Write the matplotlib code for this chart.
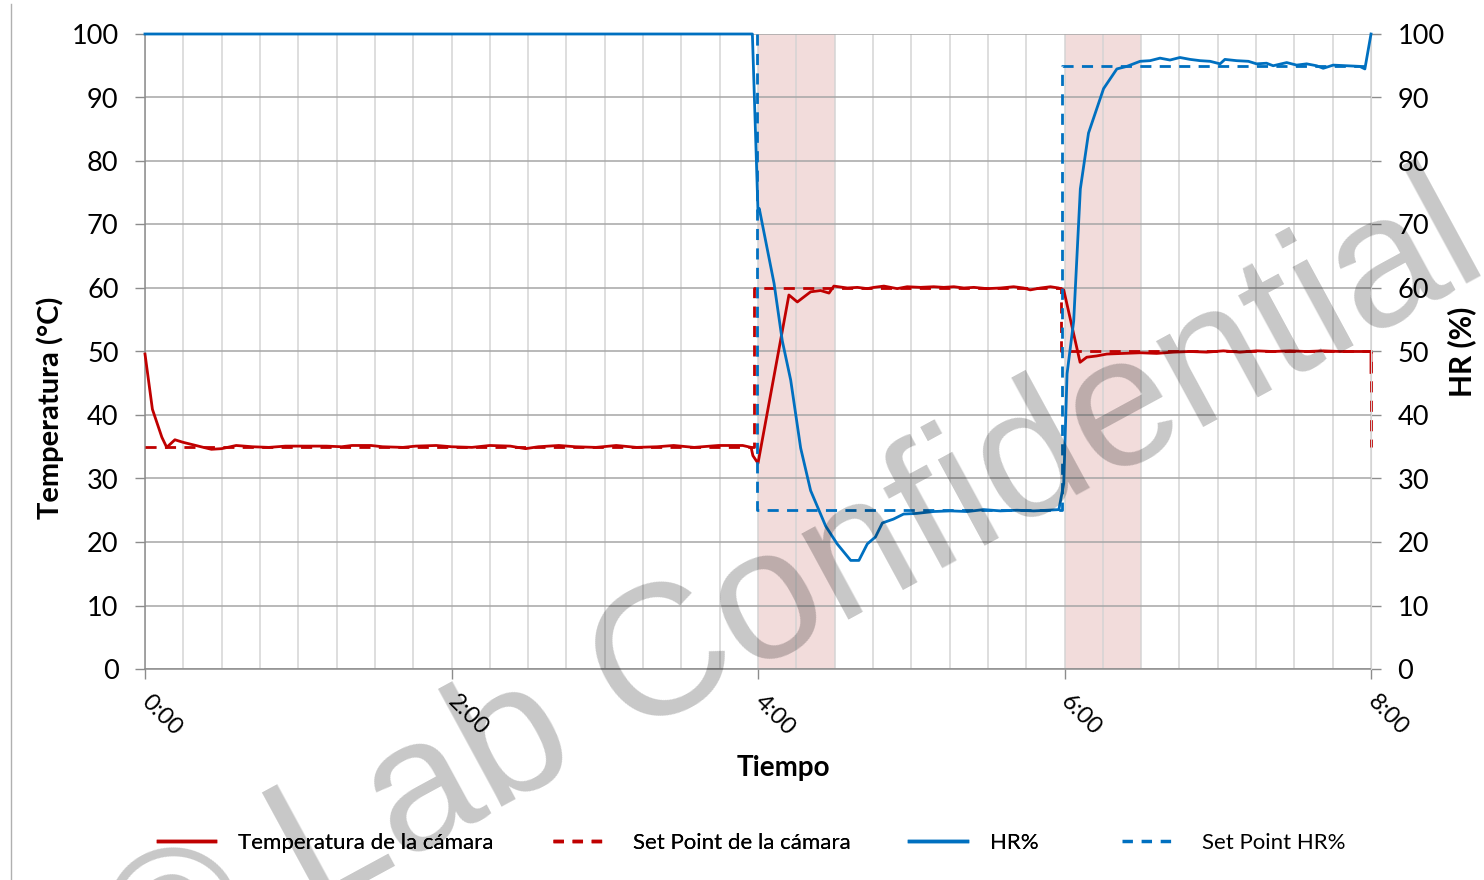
import matplotlib
matplotlib.use("Agg")
import matplotlib.pyplot as plt
from matplotlib.lines import Line2D
from matplotlib.ticker import MultipleLocator

# ---------------- data (time in minutes) ----------------
temp_t = [0, 2.9, 6.6, 8.5, 11.7, 14.9, 22.9, 26, 30, 35.7, 38.9, 42, 48.5, 55, 63, 71, 77, 81,
          88.5, 93, 101, 106, 114, 120, 128, 135, 143, 149, 154, 162, 168.5, 176.5, 184.5,
          192.5, 200.5, 207, 215, 224.5, 234, 237.3, 238, 240, 252.1, 255.4, 260.6, 264.5,
          267.8, 269.7, 275, 278.9, 282.8, 285.4, 289.3, 294.5, 298.4, 303.6, 308.8, 312.7,
          316.7, 320.6, 324.5, 329.7, 335, 340.1, 344, 346.6, 350.6, 354.5, 357.7, 359.7,
          366.1, 368.7, 372.6, 376.6, 383.1, 389.6, 396.1, 402.6, 409.2, 415.7, 422.2, 428.7,
          435.2, 441.7, 448.3, 454.8, 461.3, 467.8, 474.3, 480, 480]
temp_v = [49.6, 40.9, 36.5, 34.9, 36.1, 35.7, 34.9, 34.6, 34.7, 35.2, 35.1, 35.0, 34.9, 35.1,
          35.1, 35.1, 35.0, 35.2, 35.2, 35.0, 34.9, 35.1, 35.2, 35.0, 34.9, 35.2, 35.1, 34.7,
          35.0, 35.2, 35.0, 34.9, 35.2, 34.9, 35.0, 35.2, 34.9, 35.2, 35.2, 34.9, 33.6, 32.4,
          58.9, 57.8, 59.4, 59.6, 59.2, 60.3, 60.0, 60.1, 59.9, 60.1, 60.3, 59.9, 60.2, 60.1,
          60.2, 60.1, 60.2, 60.0, 60.1, 59.9, 60.0, 60.2, 60.0, 59.7, 60.0, 60.2, 60.0, 59.7,
          48.3, 49.1, 49.3, 49.6, 49.7, 49.8, 49.7, 49.9, 50.0, 49.9, 50.1, 49.9, 50.1, 50.0,
          50.1, 50.0, 50.1, 50.0, 50.0, 50.0, 46.7]

sp_temp_t = [0, 238.5, 238.5, 358.5, 358.5, 480, 480]
sp_temp_v = [35, 35, 60, 60, 50, 50, 35]

hr_t = [0, 237.8, 240, 240.5, 246.3, 249.5, 252.8, 256.7, 260.6, 266.5, 271, 276.3, 279.5,
        282.8, 286, 288.7, 293, 297, 302, 308.8, 315.4, 321.9, 328.4, 334.9, 341.4, 348,
        353.2, 357.8, 359.7, 361, 363.6, 366.2, 369.4, 375.3, 380.5, 384.4, 389.6, 393.5,
        397.4, 401.3, 405.2, 409.2, 413.1, 417, 420.9, 422.8, 427.4, 432, 435.2, 439.1,
        441.7, 447, 450.9, 454.8, 458.7, 461.3, 465.2, 470.4, 475.6, 477.6, 480]
hr_v = [100, 100, 72.0, 72.5, 60.7, 51.7, 45.5, 34.8, 28.1, 22.5, 19.7, 17.1, 17.1, 19.7,
        20.8, 23.0, 23.6, 24.4, 24.5, 24.8, 24.9, 24.8, 25.1, 24.9, 25.0, 24.9, 25.0, 25.1,
        29.2, 46.5, 54.8, 75.6, 84.4, 91.4, 94.5, 94.9, 95.7, 95.8, 96.2, 95.9, 96.3, 96.0,
        95.8, 95.7, 95.3, 96.0, 95.8, 95.7, 95.3, 95.4, 95.0, 95.5, 95.1, 95.3, 95.0, 94.6,
        95.1, 95.0, 94.9, 94.5, 100]

sp_hr_t = [239.6, 239.6, 359.2, 359.2, 480]
sp_hr_v = [100, 25, 25, 95, 95]

shade_start = [240, 360]
shade_end = [270, 390]

xtick_pos = [0, 120, 240, 360, 480]
xtick_labels = ["0:00", "2:00", "4:00", "6:00", "8:00"]

series_labels = ["Temperatura de la cámara", "Set Point de la cámara", "HR%", "Set Point HR%"]

# ---------------- style ----------------
RED = "#C00000"
BLUE = "#0070C0"
GRID_H = "#A6A6A6"
GRID_V = "#D4D4D4"
FONT = "Lato"

W, H = 1484, 880
fig = plt.figure(figsize=(W / 100, H / 100), dpi=100)
ax = fig.add_axes([145 / W, 1 - 669 / H, (1371 - 145) / W, (669 - 34) / H])

for s, e in zip(shade_start, shade_end):
    ax.axvspan(s, e, color="#F2DCDB", zorder=0, lw=0)

ax.set_xlim(0, 480)
ax.set_ylim(0, 100)
ax.xaxis.set_major_locator(plt.FixedLocator(xtick_pos))
ax.set_xticklabels(xtick_labels)
ax.xaxis.set_minor_locator(MultipleLocator(15))
ax.yaxis.set_major_locator(MultipleLocator(10))
ax.set_axisbelow(True)
ax.grid(axis="y", which="major", color=GRID_H, lw=1.1, zorder=0.5)
ax.grid(axis="x", which="both", color=GRID_V, lw=1.1, zorder=0.5)

for side in ["top", "right"]:
    ax.spines[side].set_visible(False)
for side in ["left", "bottom"]:
    ax.spines[side].set_color("#8C8C8C")
    ax.spines[side].set_linewidth(1.1)

ax.tick_params(axis="x", which="major", length=7, width=1, color="#8C8C8C", direction="out", pad=14)
ax.tick_params(axis="x", which="minor", length=0)
ax.tick_params(axis="y", length=7, width=1, color="#8C8C8C", direction="out", pad=12)
for lab in ax.get_xticklabels():
    lab.set_rotation(-45)
    lab.set_rotation_mode("anchor")
    lab.set_ha("left")
    lab.set_va("center")
    lab.set_fontfamily(FONT)
    lab.set_fontsize(17)
for lab in ax.get_yticklabels():
    lab.set_fontfamily(FONT)
    lab.set_fontsize(19.5)

ax.plot(temp_t, temp_v, color=RED, lw=2.0, clip_on=False, zorder=3)
ax.plot(sp_temp_t, sp_temp_v, color=RED, lw=2.0, dashes=(4, 3), clip_on=False, zorder=3)

ax2 = ax.twinx()
ax2.set_ylim(0, 100)
ax2.yaxis.set_major_locator(MultipleLocator(10))
for side in ["top", "left", "bottom"]:
    ax2.spines[side].set_visible(False)
ax2.spines["right"].set_color(GRID_V)
ax2.tick_params(axis="y", length=7, width=1, color="#8C8C8C", direction="out", pad=12)
for lab in ax2.get_yticklabels():
    lab.set_fontfamily(FONT)
    lab.set_fontsize(19.5)

ax2.plot(hr_t, hr_v, color=BLUE, lw=2.0, clip_on=False, zorder=3)
ax2.plot(sp_hr_t, sp_hr_v, color=BLUE, lw=2.0, dashes=(4, 3), clip_on=False, zorder=3)

ax.set_xlabel("Tiempo", fontfamily=FONT, fontweight="bold", fontsize=20)
ax.xaxis.set_label_coords((783 - 145) / 1226, (669 - 768) / 635)
ax.xaxis.label.set_va("center")
ax.set_ylabel("Temperatura (°C)", fontfamily=FONT, fontweight="bold", fontsize=21)
ax.yaxis.set_label_coords((50 - 145) / 1226, (669 - 408) / 635)
ax.yaxis.label.set_va("center")
ax2.set_ylabel("HR (%)", fontfamily=FONT, fontweight="bold", fontsize=21.5)
ax2.yaxis.set_label_coords((1462 - 145) / 1226, (669 - 352) / 635)
ax2.yaxis.label.set_va("center")

handles = [
    Line2D([], [], color=RED, lw=2.5),
    Line2D([], [], color=RED, lw=2.5, dashes=(3, 2.5)),
    Line2D([], [], color=BLUE, lw=2.5),
    Line2D([], [], color=BLUE, lw=2.5, dashes=(3, 2.5)),
]
leg_kw = dict(frameon=False, prop={"family": FONT, "size": 16},
              handlelength=2.57, handletextpad=1.04, columnspacing=2.65,
              borderpad=0, borderaxespad=0)
leg1 = fig.legend(handles[:3], series_labels[:3], loc="center left",
                  bbox_to_anchor=(158 / W, 1 - 843 / H), ncol=3, **leg_kw)
fig.legend(handles[3:], series_labels[3:], loc="center left",
           bbox_to_anchor=(1122 / W, 1 - 843 / H), ncol=1, **leg_kw)
fig.add_artist(leg1)

# left frame line
fig.add_artist(Line2D([11 / W, 11 / W], [0, 1 - 4 / H], color="#B0B0B0", lw=1.0))

# watermark
fig.text(795 / W, 1 - 594 / H, "© Lab Confidential", rotation=28.5, rotation_mode="anchor",
         ha="center", va="center", fontsize=134, family="Liberation Sans",
         color="black", alpha=0.22, zorder=10)

fig.savefig("out.png", dpi=100)
